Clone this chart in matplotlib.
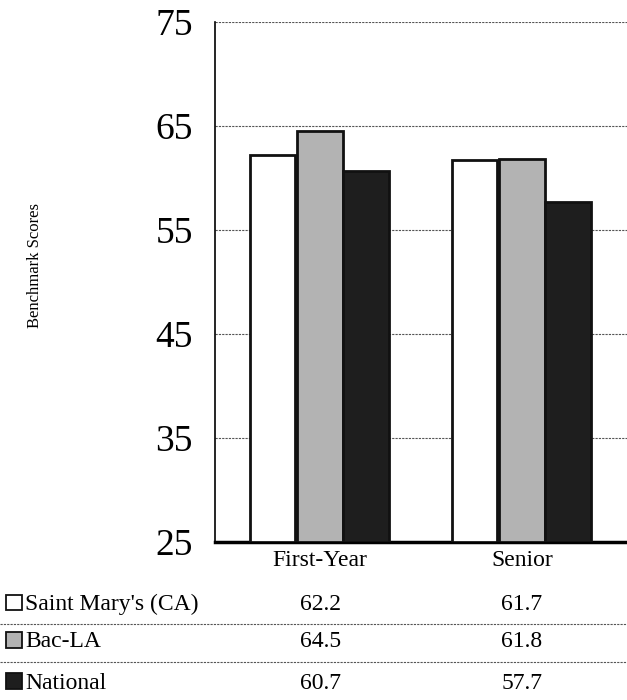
import matplotlib.pyplot as plt
import matplotlib.transforms as mtransforms
import numpy as np

# data
categories = ["First-Year", "Senior"]
series = ["Saint Mary's (CA)", "Bac-LA", "National"]
saint_marys = [62.2, 61.7]
bac_la = [64.5, 61.8]
national = [60.7, 57.7]
yticks = [25, 35, 45, 55, 65, 75]

colors = ["white", "#b3b3b3", "#1e1e1e"]
values = [saint_marys, bac_la, national]

plt.rcParams['font.family'] = ['Liberation Serif', 'DejaVu Serif']

fig = plt.figure(figsize=(6.27, 7), dpi=100)
ax = fig.add_axes([0.343, 0.2257, 0.657, 0.7429])

x = np.arange(len(categories))
width = 0.225
offsets = [-0.235, 0.0, 0.228]
for vals, col, off in zip(values, colors, offsets):
    ax.bar(x + off, np.array(vals) - 25, width, bottom=25, color=col,
           edgecolor="#111111", linewidth=2.0, zorder=3)

ax.set_ylim(25, 75)
ax.set_xlim(-0.52, 1.52)
ax.set_yticks(yticks)
ax.set_yticklabels([str(t) for t in yticks], fontsize=27)
ax.set_xticks(x)
ax.set_xticklabels(categories, fontsize=17)
ax.tick_params(axis="y", length=0, pad=16)
ax.tick_params(axis="x", length=0, pad=6)
ax.yaxis.grid(True, color="#555555", linestyle=(0, (2, 1)), linewidth=0.8, zorder=0)
ax.spines["top"].set_visible(False)
ax.spines["right"].set_visible(False)
ax.spines["left"].set_linewidth(1.2)
ax.spines["bottom"].set_linewidth(2.5)

fig.text(0.056, 0.62, "Benchmark Scores", rotation=90, fontsize=12,
         ha="center", va="center")

# data table below chart
trans = mtransforms.blended_transform_factory(ax.transData, fig.transFigure)
row_y = [0.136, 0.083, 0.024]
for name, vals, col, ry in zip(series, values, colors, row_y):
    fig.patches.append(plt.Rectangle((0.01, ry - 0.008), 0.025, 0.022,
                                     facecolor=col, edgecolor="#111111",
                                     linewidth=1.3, transform=fig.transFigure))
    fig.text(0.04, ry, name, fontsize=17, ha="left", va="center")
    for xi, v in zip(x, vals):
        fig.text(xi, ry, f"{v:.1f}", fontsize=17, ha="center", va="center",
                 transform=trans)

for ly in [0.109, 0.054]:
    fig.add_artist(plt.Line2D([0, 1], [ly, ly], color="#555555",
                              linestyle=(0, (2, 1)), linewidth=0.8,
                              transform=fig.transFigure))

fig.savefig("out.png", dpi=100)
